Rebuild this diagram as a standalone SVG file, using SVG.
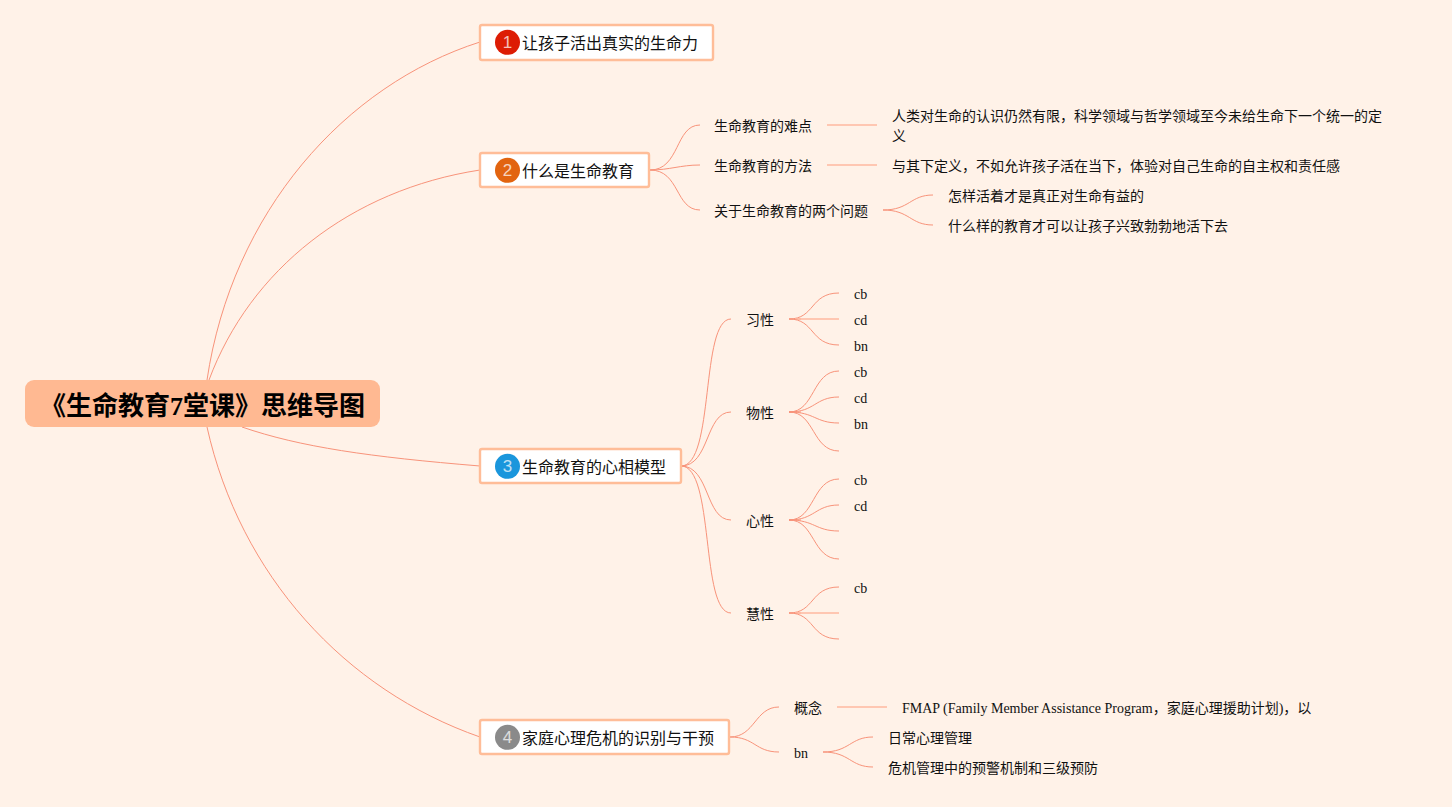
<svg xmlns="http://www.w3.org/2000/svg" width="1452" height="807" viewBox="0 0 1452 807">
<style>
text{font-family:"Liberation Serif","Noto Sans CJK SC",serif;fill:#111}
.t{font-size:14px}
.m{font-size:16px}
.r{font-size:26px;font-weight:700;fill:#000}
.box{fill:#fff;stroke:#ffbd98;stroke-width:2.4}
.n{font-family:"Liberation Sans","Noto Sans",sans-serif;font-size:17px;fill:#fff;text-anchor:middle;opacity:.72}
#connectors path{fill:none;stroke:#f8937a;stroke-width:1}
#connectors .s{stroke:#ffb9a0;stroke-width:1.6}
</style>
<rect width="1452" height="807" fill="#fff2e8"/>
<g id="connectors">
<path d="M207 380C232 212 345 85 480 42"/>
<path d="M209 380C250 270 350 190 480 170"/>
<path d="M242 427C300 447 370 457 480 466"/>
<path d="M207 427C240 575 345 690 480 737"/>
<path d="M650 170C680 170 675 125 700 125"/>
<path d="M650 170C670 170 680 165 700 165"/>
<path d="M650 170C680 170 675 210 700 210"/>
<path class="s" d="M827 125H877"/>
<path class="s" d="M827 165H877"/>
<path d="M883 210C910 210 910 195 933 195"/>
<path d="M883 210C910 210 910 225 933 225"/>
<path d="M681 466C715 466 700 319 731 319"/>
<path d="M681 466C710 466 705 412 731 412"/>
<path d="M681 466C710 466 705 520 731 520"/>
<path d="M681 466C715 466 700 613 731 613"/>
<g id="b1">
<path class="s" d="M789 319H801"/>
<path d="M789 319C815 319 810 293 839 293"/>
<path class="s" d="M795 319H839"/>
<path d="M789 319C815 319 810 345 839 345"/>
</g>
<g id="b2">
<path class="s" d="M789 412H801"/>
<path d="M789 412C815 412 812 371 839 371"/>
<path d="M789 412C815 412 815 397 839 397"/>
<path d="M789 412C815 412 815 423 839 423"/>
<path d="M789 412C815 412 812 451 839 451"/>
</g>
<g id="b3">
<path class="s" d="M789 520H801"/>
<path d="M789 520C815 520 812 479 839 479"/>
<path d="M789 520C815 520 815 505 839 505"/>
<path d="M789 520C815 520 815 531 839 531"/>
<path d="M789 520C815 520 812 559 839 559"/>
</g>
<g id="b4">
<path class="s" d="M789 613H801"/>
<path d="M789 613C815 613 810 587 839 587"/>
<path class="s" d="M795 613H839"/>
<path d="M789 613C815 613 810 639 839 639"/>
</g>
<path d="M730 737C755 737 755 707 779 707"/>
<path d="M730 737C755 737 755 752 779 752"/>
<path class="s" d="M837 707H887"/>
<path d="M823 752C850 752 850 737 873 737"/>
<path d="M823 752C850 752 850 767 873 767"/>
</g>
<g id="root"><rect x="25" y="380" width="355" height="47" rx="9" fill="#ffb992"/><text class="r" x="40" y="415">《生命教育7堂课》思维导图</text></g>
<g id="n1"><rect class="box" x="480" y="25" width="233" height="35" rx="2"/><circle cx="507.5" cy="42.3" r="12.5" fill="#dd1c04"/><text class="n" x="507.5" y="48.3">1</text><text class="m" x="522" y="49">让孩子活出真实的生命力</text></g>
<g id="n2"><rect class="box" x="480" y="153" width="169" height="34" rx="2"/><circle cx="507.5" cy="170.3" r="12.5" fill="#e2640f"/><text class="n" x="507.5" y="176.3">2</text><text class="m" x="522" y="177">什么是生命教育</text></g>
<g id="n3"><rect class="box" x="480" y="449" width="201" height="34" rx="2"/><circle cx="507.5" cy="466.3" r="12.5" fill="#1a96dc"/><text class="n" x="507.5" y="472.3">3</text><text class="m" x="522" y="473">生命教育的心相模型</text></g>
<g id="n4"><rect class="box" x="480" y="720" width="249" height="34" rx="2"/><circle cx="507.5" cy="737.3" r="12.5" fill="#8a8a8a"/><text class="n" x="507.5" y="743.3">4</text><text class="m" x="522" y="744">家庭心理危机的识别与干预</text></g>
<g id="a1"><text class="t" x="714" y="131">生命教育的难点</text></g>
<g id="a2"><text class="t" x="714" y="171">生命教育的方法</text></g>
<g id="a3"><text class="t" x="714" y="216">关于生命教育的两个问题</text></g>
<g id="a1d"><text class="t" x="892" y="121">人类对生命的认识仍然有限，科学领域与哲学领域至今未给生命下一个统一的定</text><text class="t" x="892" y="141">义</text></g>
<g id="a2d"><text class="t" x="892" y="171">与其下定义，不如允许孩子活在当下，体验对自己生命的自主权和责任感</text></g>
<g id="a3a"><text class="t" x="948" y="201">怎样活着才是真正对生命有益的</text></g>
<g id="a3b"><text class="t" x="948" y="231">什么样的教育才可以让孩子兴致勃勃地活下去</text></g>
<g id="c1"><text class="t" x="746" y="325">习性</text></g>
<g id="c2"><text class="t" x="746" y="418">物性</text></g>
<g id="c3"><text class="t" x="746" y="526">心性</text></g>
<g id="c4"><text class="t" x="746" y="619">慧性</text></g>
<g id="c1a"><text class="t" x="854" y="299">cb</text></g>
<g id="c1b"><text class="t" x="854" y="325">cd</text></g>
<g id="c1c"><text class="t" x="854" y="351">bn</text></g>
<g id="c2a"><text class="t" x="854" y="377">cb</text></g>
<g id="c2b"><text class="t" x="854" y="403">cd</text></g>
<g id="c2c"><text class="t" x="854" y="429">bn</text></g>
<g id="c3a"><text class="t" x="854" y="485">cb</text></g>
<g id="c3b"><text class="t" x="854" y="511">cd</text></g>
<g id="c4a"><text class="t" x="854" y="593">cb</text></g>
<g id="d1"><text class="t" x="794" y="713">概念</text></g>
<g id="d2"><text class="t" x="794" y="758">bn</text></g>
<g id="d1a"><text class="t" x="902" y="713">FMAP (Family Member Assistance Program，家庭心理援助计划)，以</text></g>
<g id="d2a"><text class="t" x="888" y="743">日常心理管理</text></g>
<g id="d2b"><text class="t" x="888" y="773">危机管理中的预警机制和三级预防</text></g>
</svg>
